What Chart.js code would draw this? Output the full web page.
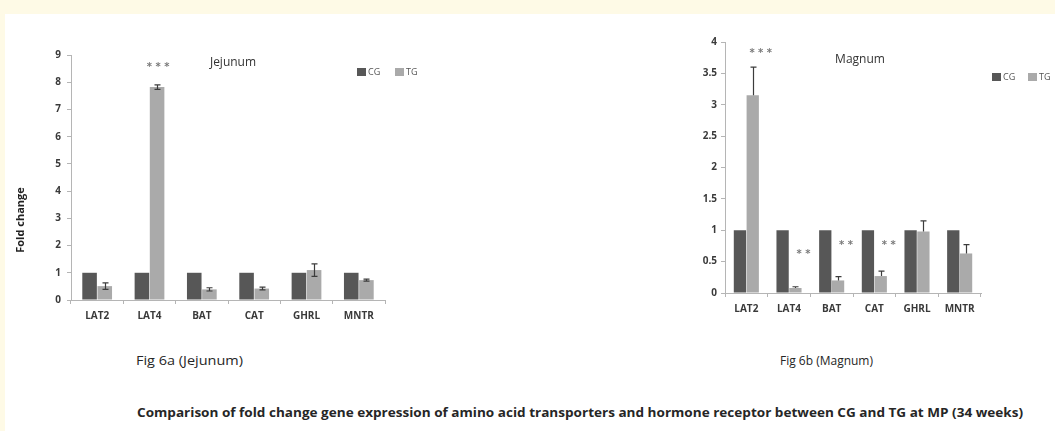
<!DOCTYPE html>
<html>
<head>
<meta charset="utf-8">
<script src="https://cdn.jsdelivr.net/npm/chart.js@4.4.0/dist/chart.umd.min.js"></script>
<style>
  html, body { margin: 0; padding: 0; background: #ffffff; }
  body { width: 1055px; height: 431px; position: relative; overflow: hidden; font-family: "Open Sans", sans-serif; }
  .edge-top { position: absolute; left: 0; top: 0; width: 1055px; height: 14px; background: #fefae6; }
  .edge-left { position: absolute; left: 0; top: 0; width: 5px; height: 431px; background: #fefae6; }
  canvas { position: absolute; top: 0; }
  #jejunum { left: 0; }
  #magnum { left: 660px; }
  .cap { position: absolute; white-space: nowrap; color: #262626; transform-origin: 0 50%; line-height: 1; }
</style>
</head>
<body>
<div class="edge-top"></div>
<div class="edge-left"></div>
<canvas id="jejunum" width="470" height="340"></canvas>
<canvas id="magnum" width="395" height="340"></canvas>
<div class="cap" id="capA" style="left:136px; top:355px; font-size:12px;">Fig 6a (Jejunum)</div>
<div class="cap" id="capB" style="left:780px; top:355px; font-size:12px;">Fig 6b (Magnum)</div>
<div class="cap" id="capMain" style="left:137px; top:407px; font-size:12px; font-weight:700;">Comparison of fold change gene expression of amino acid transporters and hormone receptor between CG and TG at MP (34 weeks)</div>

<script>
// Gene categories
const categories = ['LAT2', 'LAT4', 'BAT', 'CAT', 'GHRL', 'MNTR'];
const seriesNames = ['CG', 'TG'];

// Jejunum fold change
const jejunumCG = [1, 1, 1, 1, 1, 1];
const jejunumTG = [0.51, 7.82, 0.39, 0.42, 1.1, 0.73];
const jejunumTGErr = [0.12, 0.08, 0.06, 0.05, 0.23, 0.04];
const jejunumSig = ['', '***', '', '', '', ''];

// Magnum fold change
const magnumCG = [1, 1, 1, 1, 1, 1];
const magnumTG = [3.15, 0.08, 0.2, 0.27, 0.98, 0.63];
const magnumTGErr = [0.45, 0.02, 0.06, 0.08, 0.17, 0.14];
const magnumSig = ['***', '**', '**', '**', '', ''];

const CG_COLOR = '#575757';
const TG_COLOR = '#aaaaaa';
const AXIS_COLOR = '#b5b5b5';
const TEXT_COLOR = '#3a3a3a';

// Error whiskers on top of bars
const errorBars = {
  id: 'errorBars',
  afterDatasetsDraw(chart, args, opts) {
    const ctx = chart.ctx;
    const yScale = chart.scales.y;
    chart.data.datasets.forEach((ds, i) => {
      if (!ds.errors) return;
      const meta = chart.getDatasetMeta(i);
      meta.data.forEach((bar, j) => {
        const v = ds.data[j];
        const e = ds.errors[j];
        const top = yScale.getPixelForValue(v + e);
        const bot = opts.both ? yScale.getPixelForValue(v - e) : bar.y;
        const x = Math.round(bar.x) + 0.5;
        const cap = opts.cap;
        ctx.save();
        ctx.strokeStyle = opts.color;
        ctx.lineWidth = 1.2;
        ctx.beginPath();
        ctx.moveTo(x, top); ctx.lineTo(x, bot);
        ctx.moveTo(x - cap, top); ctx.lineTo(x + cap, top);
        if (opts.both) { ctx.moveTo(x - cap, bot); ctx.lineTo(x + cap, bot); }
        ctx.stroke();
        ctx.restore();
      });
    });
  }
};

// Panel title, legend, significance stars and y-axis caption
const decor = {
  id: 'decor',
  afterDraw(chart, args, o) {
    const ctx = chart.ctx;
    ctx.save();
    // panel title
    ctx.fillStyle = '#333333';
    ctx.font = '12px "Open Sans", sans-serif';
    ctx.textAlign = 'center';
    ctx.textBaseline = 'middle';
    ctx.fillText(o.title, o.titleX, o.titleY);

    // legend
    ctx.font = '9px "Open Sans", sans-serif';
    ctx.textAlign = 'left';
    let lx = o.legendX;
    chart.data.datasets.forEach((ds, i) => {
      ctx.fillStyle = ds.backgroundColor;
      ctx.fillRect(lx, o.legendY - 4, 9, 8);
      ctx.fillStyle = '#555555';
      ctx.fillText(ds.label, lx + 11, o.legendY);
      lx += o.legendGap;
    });

    // significance marks above TG bars
    const meta = chart.getDatasetMeta(1);
    ctx.fillStyle = '#7a7a7a';
    ctx.font = 'bold 10px "DejaVu Sans", sans-serif';
    ctx.textAlign = 'center';
    o.sig.forEach((s, j) => {
      if (!s) return;
      const x = meta.data[j].x + o.sigDx;
      const y = chart.scales.y.getPixelForValue(o.sigAt[j]);
      ctx.fillText(s.split('').join(' '), x, y + 3);
    });

    // y-axis caption
    if (o.yLabel) {
      ctx.translate(o.yLabelX, o.yLabelY);
      ctx.rotate(-Math.PI / 2);
      ctx.fillStyle = '#222222';
      ctx.font = 'bold 11px "Open Sans", sans-serif';
      ctx.textAlign = 'center';
      ctx.fillText(o.yLabel, 0, 0);
    }
    ctx.restore();
  }
};

const tickFont = { family: '"Open Sans", sans-serif', size: 10, weight: 'bold' };

function makeChart(id, cg, tg, tgErr, cfg) {
  return new Chart(document.getElementById(id), {
    type: 'bar',
    data: {
      labels: categories,
      datasets: [
        { label: seriesNames[0], data: cg, backgroundColor: CG_COLOR },
        { label: seriesNames[1], data: tg, backgroundColor: TG_COLOR, errors: tgErr }
      ]
    },
    options: {
      responsive: false,
      animation: false,
      layout: { padding: cfg.padding },
      datasets: { bar: { categoryPercentage: cfg.catPct, barPercentage: 0.96 } },
      plugins: {
        legend: { display: false },
        tooltip: { enabled: false },
        errorBars: { color: '#3c3c3c', cap: 3, both: cfg.bothErr },
        decor: cfg.decor
      },
      scales: {
        x: {
          grid: { display: true, drawOnChartArea: false, drawTicks: true, tickLength: 4, color: AXIS_COLOR, offset: true },
          border: { display: true, color: AXIS_COLOR, width: 1 },
          ticks: { font: tickFont, color: TEXT_COLOR, padding: 6, maxRotation: 0 },
          afterFit(s) { s.height = 30; }
        },
        y: {
          min: 0,
          max: cfg.yMax,
          ticks: { stepSize: cfg.yStep, font: tickFont, color: TEXT_COLOR, padding: cfg.yPad, callback: v => String(v) },
          grid: { display: true, drawOnChartArea: false, drawTicks: true, tickLength: 4, color: AXIS_COLOR },
          border: { display: true, color: AXIS_COLOR, width: 1 },
          afterFit(s) { s.width = cfg.yWidth; }
        }
      }
    },
    plugins: [errorBars, decor]
  });
}

makeChart('jejunum', jejunumCG, jejunumTG, jejunumTGErr, {
  padding: { left: 40, right: 85, top: 55, bottom: 10 },
  yWidth: 31, yMax: 9, yStep: 1, yPad: 6, catPct: 0.58, bothErr: true,
  decor: {
    title: 'Jejunum', titleX: 233, titleY: 63,
    legendX: 357, legendY: 72, legendGap: 38,
    sig: jejunumSig, sigAt: [0, 8.64, 0, 0, 0, 0], sigDx: 1,
    yLabel: 'Fold change', yLabelX: 21, yLabelY: 220
  }
});

makeChart('magnum', magnumCG, magnumTG, magnumTGErr, {
  padding: { left: 30, right: 74, top: 42, bottom: 17 },
  yWidth: 35, yMax: 4, yStep: 0.5, yPad: 4, catPct: 0.6, bothErr: false,
  decor: {
    title: 'Magnum', titleX: 200, titleY: 60,
    legendX: 332, legendY: 77, legendGap: 36,
    sig: magnumSig, sigAt: [3.87, 0.67, 0.8, 0.8, 0, 0], sigDx: 8,
    yLabel: ''
  }
});

// Fit each caption to its column width
function fitWidth(id, width) {
  const el = document.getElementById(id);
  const w = el.getBoundingClientRect().width;
  el.style.transform = 'scaleX(' + (width / w) + ')';
}
fitWidth('capA', 107);
fitWidth('capB', 93);
fitWidth('capMain', 886);
</script>
</body>
</html>
